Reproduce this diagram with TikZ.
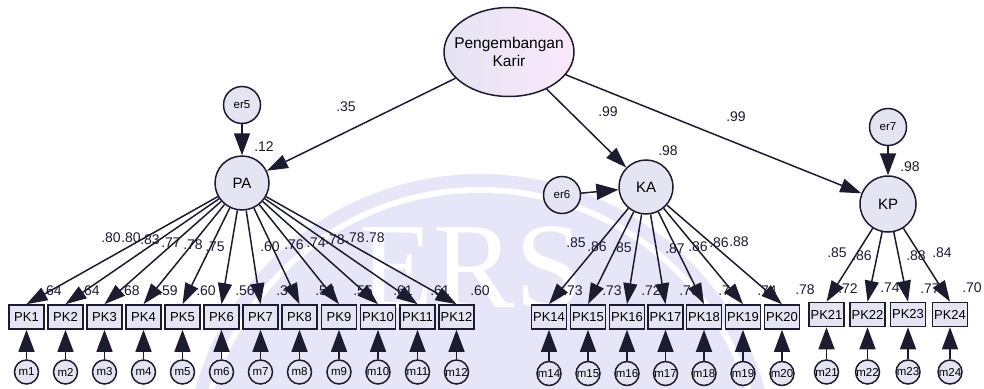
\documentclass[tikz,border=0pt]{standalone}
\usepackage{fontspec}
\setmainfont{Liberation Sans}
\newfontfamily\sealfont{Liberation Serif}
\usetikzlibrary{arrows.meta,shapes.geometric}
\definecolor{ink}{HTML}{1C1C30}
\definecolor{lav}{HTML}{E4E4F2}
\definecolor{seal}{HTML}{E6E6F8}
\tikzset{
	lat/.style={circle, draw=ink, line width=1.5pt, fill=lav, minimum size=54pt, inner sep=0pt, font=\fontsize{15}{15}\selectfont},
	err/.style={circle, draw=ink, line width=1.5pt, fill=lav, minimum size=37pt, inner sep=0pt, font=\fontsize{11.5}{12}\selectfont},
	mes/.style={circle, draw=ink, line width=1.5pt, fill=lav, minimum size=24pt, inner sep=0pt, font=\fontsize{11.5}{11.5}\selectfont},
	itm/.style={rectangle, draw=ink, line width=1.6pt, fill=lav, minimum width=35pt, minimum height=24pt, inner sep=0pt, font=\fontsize{13}{13}\selectfont},
	lbl/.style={text=ink, inner sep=0pt, font=\fontsize{14}{14}\selectfont},
	lnk/.style={draw=ink, line width=1.5pt, -{Triangle[length=21pt,width=14pt]}},
	fat/.style={draw=ink, line width=1.5pt, -{Triangle[length=22pt,width=16pt]}},
}
\begin{document}
\begin{tikzpicture}[x=1pt,y=-1pt]
	\useasboundingbox (0,0) rectangle (984,388);
	
	% seal in the background
	\begin{scope}
		\clip (0,0) rectangle (984,388);
		\fill[seal] (480,470) circle (296);
		\fill[white] (480,470) circle (283);
		\fill[seal] (480,470) circle (277);
		\node[text=white, inner sep=0pt, font=\sealfont\fontsize{122}{122}\selectfont] (ers) at (471,268) {ERS};
	\end{scope}
	
	% latent variables
	\node[ellipse, draw=ink, line width=1.5pt, left color=lav, right color=lav!70!magenta!25, minimum width=130pt, minimum height=89pt, inner sep=0pt] (pk) at (509,52) {};
	\node[align=center, inner sep=0pt, font=\fontsize{15.5}{18}\selectfont] (pktxt) at (pk) {Pengembangan\\Karir};
	\node[lat] (pa) at (242,183) {PA};
	\node[lat] (ka) at (646,187) {KA};
	\node[lat, minimum size=56pt] (kp) at (888,204) {KP};
	\node[err] (er5) at (242,105) {er5};
	\node[err] (er6) at (562,195) {er6};
	\node[err] (er7) at (888,127) {er7};
	
	% labels go first, the arrows run over them
	\foreach \px/\py/\val in {346/107/.35, 264/147/.12, 608/112/.99, 668/151/.98, 736/117/.99, 910/167/.98,
		111/238/.80, 131/238/.80, 150/240/.83, 171/243/.77, 193/245/.78, 215/247/.75,
		270/247/.60, 294/245/.76, 316/243/.74, 335/240/.78, 355/238/.78, 375/238/.78,
		52/291/.64, 90/291/.64, 130/291/.68, 168/291/.59, 206/291/.60, 245/291/.56,
		286/291/.37, 325/291/.58, 363/291/.55, 403/291/.61, 440/291/.61, 480/291/.60,
		576/243/.85, 597/247/.86, 622/248/.85, 675/249/.87, 698/247/.86, 719/243/.86, 739/242/.88,
		573/291/.73, 612/291/.73, 651/291/.72, 689/291/.76, 728/291/.74, 767/291/.74, 805/290/.78,
		837/253/.85, 862/256/.86, 916/256/.88, 942/253/.84,
		848/289/.72, 890/288/.74, 930/289/.77, 972/288/.70}
		\node[lbl] at (\px,\py) {\val};
	
	% items of PA
	\foreach \i/\x in {1/26.5,2/65.5,3/104.5,4/143.5,5/182.5,6/221.5,7/260.5,8/299.5,9/339,10/378,11/417.5,12/456.5}{
		\node[itm] (PK\i) at (\x,317) {PK\i};
		\node[mes] (m\i) at (\x,372) {m\i};
		\draw[fat] (m\i) -- (PK\i);
		\draw[lnk] (pa) -- (PK\i.north);
	}
	
	% items of KA
	\foreach \i/\x in {14/549,15/588,16/627,17/665.5,18/704,19/743,20/782}{
		\node[itm] (PK\i) at (\x,317) {PK\i};
		\node[mes] (m\i) at (\x,373.5) {m\i};
		\draw[fat] (m\i) -- (PK\i);
		\draw[lnk] (ka) -- (PK\i.north);
	}
	
	% items of KP
	\foreach \i/\x in {21/826.5,22/867.5,23/908,24/950}{
		\node[itm] (PK\i) at (\x,314.5) {PK\i};
		\node[mes] (m\i) at (\x,372) {m\i};
		\draw[fat] (m\i) -- (PK\i);
		\draw[lnk] (kp) -- (PK\i.north);
	}
	
	\draw[lnk] (pk) -- (pa);
	\draw[lnk] (pk) -- (ka);
	\draw[lnk] (pk) -- (kp);
	\draw[fat] (er5) -- (pa);
	\draw[fat] (er6) -- (ka);
	\draw[fat] (er7) -- (kp);
\end{tikzpicture}
\end{document}
